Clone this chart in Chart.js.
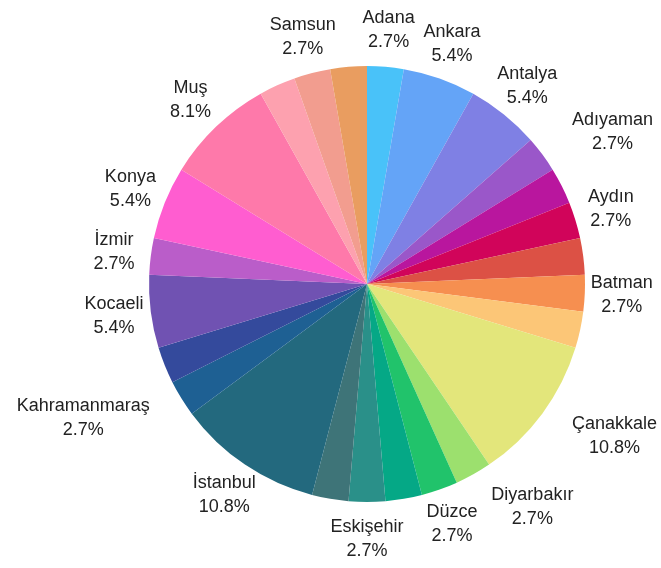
<!DOCTYPE html>
<html>
<head>
<meta charset="utf-8">
<script src="https://cdn.jsdelivr.net/npm/chart.js@4/dist/chart.umd.min.js"></script>
<style>
  html, body { margin: 0; padding: 0; background: #fff; }
  #wrap { width: 661px; height: 568px; }
</style>
</head>
<body>
<div id="wrap"><canvas id="pie" width="661" height="568"></canvas></div>
<script>
// şehirler, saat yönünde tepeden başlayarak
const cities = [
  'Adana', 'Ankara', 'Antalya', 'Adıyaman', 'Aydın', 'Balıkesir', 'Bartın',
  'Batman', 'Bursa', 'Çanakkale', 'Diyarbakır', 'Düzce', 'Elazığ', 'Eskişehir',
  'Gaziantep', 'İstanbul', 'Kahramanmaraş', 'Kayseri', 'Kocaeli', 'İzmir',
  'Konya', 'Muş', 'Ordu', 'Sakarya', 'Samsun',
];
const counts = [1, 2, 2, 1, 1, 1, 1, 1, 1, 4, 1, 1, 1, 1, 1, 4, 1, 1, 2, 1, 2, 3, 1, 1, 1];
// etiketi görünen dilimler
const showLabel = [
  true, true, true, true, true, false, false, true, false, true, true, true, false, true,
  false, true, true, false, true, true, true, true, false, false, true,
];
const colors = [
  '#49C2F9', '#64A4F7', '#7F80E4', '#9A57C9', '#B9169E', '#D1045A', '#DC5145',
  '#F68F50', '#FCC677', '#E3E67B', '#9CE06E', '#21C36B', '#05A886', '#2A9089',
  '#3E7478', '#23697E', '#1E6093', '#344A9C', '#7052B2', '#BA5DC9', '#FF5DD0',
  '#FE79AA', '#FDA1AF', '#F29D8F', '#E99D60',
];

const outsideLabels = {
  id: 'outsideLabels',
  afterDraw(chart) {
    const { ctx } = chart;
    const meta = chart.getDatasetMeta(0);
    const data = chart.data.datasets[0].data;
    const total = data.reduce((s, v) => s + v, 0);
    const unit = (2 * Math.PI) / total;
    const lineH = 24;
    ctx.save();
    ctx.font = '18px "Liberation Sans", Arial, sans-serif';
    ctx.fillStyle = '#222';
    ctx.textAlign = 'center';
    ctx.textBaseline = 'middle';

    const items = [];
    meta.data.forEach((arc, i) => {
      if (!showLabel[i]) return;
      const p = arc.getProps(['x', 'y', 'startAngle', 'endAngle', 'outerRadius'], true);
      const pct = (data[i] / total * 100).toFixed(1) + '%';
      const name = chart.data.labels[i];
      const w = Math.max(ctx.measureText(name).width, ctx.measureText(pct).width);
      items.push({
        name, pct, w, h: 44,
        cx: p.x, cy: p.y, r: p.outerRadius,
        a: (p.startAngle + p.endAngle) / 2,
      });
    });

    // orta açıdaki noktaya ortala; pastaya değerse kenarını o noktaya hizala
    const place = (it) => {
      const R = it.r + 37;
      const ax = it.cx + R * Math.cos(it.a);
      const ay = it.cy + R * Math.sin(it.a);
      it.x = ax;
      it.y = ay;
      const nx = Math.min(Math.max(it.cx, ax - it.w / 2), ax + it.w / 2);
      const ny = Math.min(Math.max(it.cy, ay - it.h / 2), ay + it.h / 2);
      if (Math.hypot(nx - it.cx, ny - it.cy) < it.r + 0.5) {
        it.x = ax + (ax > it.cx ? 1 : -1) * it.w / 2;
      }
    };
    const overlap = (a, b) =>
      Math.abs(a.x - b.x) < (a.w + b.w) / 2 + 4 && Math.abs(a.y - b.y) < (a.h + b.h) / 2 + 2;

    // sırayla yerleştir; çakışan etiketi bir dilim birimi kaydır
    const placed = [];
    items.forEach((it) => {
      place(it);
      for (let k = 0; k < 10; k++) {
        const hit = placed.find((o) => overlap(o, it));
        if (!hit) break;
        let diff = it.a - hit.a;
        while (diff > Math.PI) diff -= 2 * Math.PI;
        while (diff < -Math.PI) diff += 2 * Math.PI;
        it.a += (diff >= 0 ? 1 : -1) * unit;
        place(it);
      }
      placed.push(it);
    });

    items.forEach((it) => {
      ctx.fillText(it.name, it.x, it.y - lineH / 2);
      ctx.fillText(it.pct, it.x, it.y + lineH / 2);
    });
    ctx.restore();
  },
};

const config = {
  type: 'pie',
  data: {
    labels: cities,
    datasets: [
      {
        data: counts,
        backgroundColor: colors,
        borderWidth: 0,
      },
    ],
  },
  options: {
    responsive: false,
    animation: false,
    layout: {
      padding: { left: 149, right: 76, top: 66, bottom: 66 },
    },
    plugins: {
      legend: { display: false },
      tooltip: { enabled: false },
    },
  },
  plugins: [outsideLabels],
};

new Chart(document.getElementById('pie').getContext('2d'), config);
</script>
</body>
</html>
